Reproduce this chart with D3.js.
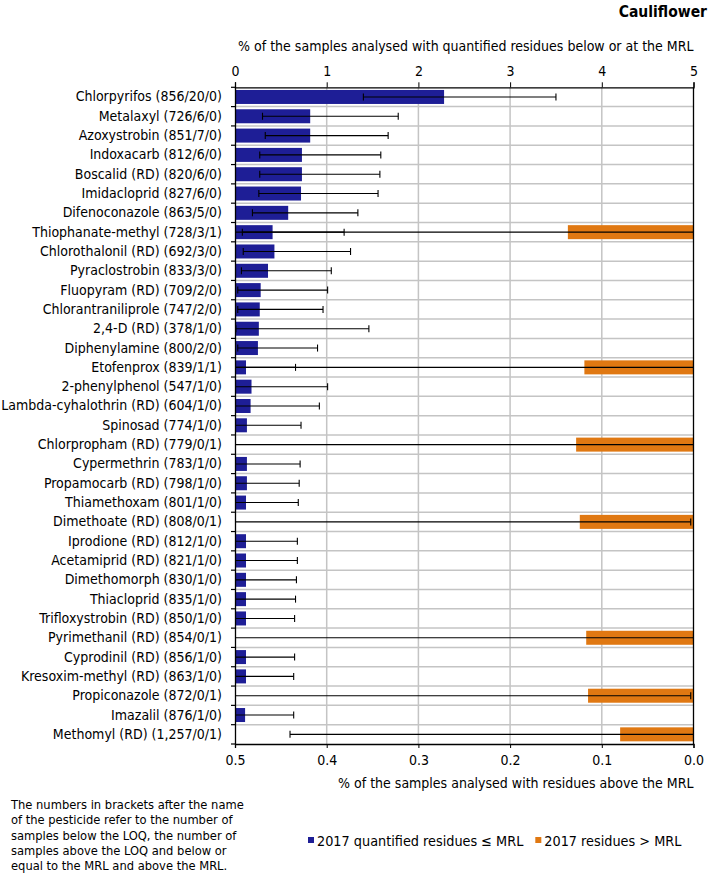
<!DOCTYPE html>
<html>
<head>
<meta charset="utf-8">
<script src="https://cdn.jsdelivr.net/npm/d3@7"></script>
<style>
  html, body { margin: 0; padding: 0; background: #fff; }
  svg { display: block; }
  text { font-family: "DejaVu Sans Condensed", "DejaVu Sans", sans-serif; fill: #000; }
</style>
</head>
<body>
<svg id="chart" width="709" height="874"></svg>
<script>
const categories = [
  "Chlorpyrifos (856/20/0)", "Metalaxyl (726/6/0)", "Azoxystrobin (851/7/0)", "Indoxacarb (812/6/0)",
  "Boscalid (RD) (820/6/0)", "Imidacloprid (827/6/0)", "Difenoconazole (863/5/0)", "Thiophanate-methyl (728/3/1)",
  "Chlorothalonil (RD) (692/3/0)", "Pyraclostrobin (833/3/0)", "Fluopyram (RD) (709/2/0)", "Chlorantraniliprole (747/2/0)",
  "2,4-D (RD) (378/1/0)", "Diphenylamine (800/2/0)", "Etofenprox (839/1/1)", "2-phenylphenol (547/1/0)",
  "Lambda-cyhalothrin (RD) (604/1/0)", "Spinosad (774/1/0)", "Chlorpropham (RD) (779/0/1)", "Cypermethrin (783/1/0)",
  "Propamocarb (RD) (798/1/0)", "Thiamethoxam (801/1/0)", "Dimethoate (RD) (808/0/1)", "Iprodione (RD) (812/1/0)",
  "Acetamiprid (RD) (821/1/0)", "Dimethomorph (830/1/0)", "Thiacloprid (835/1/0)", "Trifloxystrobin (RD) (850/1/0)",
  "Pyrimethanil (RD) (854/0/1)", "Cyprodinil (RD) (856/1/0)", "Kresoxim-methyl (RD) (863/1/0)", "Propiconazole (872/0/1)",
  "Imazalil (876/1/0)", "Methomyl (RD) (1,257/0/1)"
];
// % quantified residues <= MRL (top axis)
const quantified = [2.28, 0.82, 0.82, 0.73, 0.73, 0.72, 0.58, 0.41, 0.43, 0.36, 0.28, 0.27, 0.26, 0.25, 0.12, 0.18,
  0.17, 0.13, null, 0.13, 0.13, 0.12, null, 0.12, 0.12, 0.12, 0.12, 0.12, null, 0.12, 0.12, null, 0.11, null];
const quantifiedLow = [1.40, 0.30, 0.33, 0.27, 0.27, 0.26, 0.19, 0.08, 0.09, 0.07, 0.03, 0.03, 0.01, 0.03, 0.003, 0.005,
  0.004, 0.003, null, 0.003, 0.003, 0.003, null, 0.003, 0.003, 0.003, 0.003, 0.003, null, 0.003, 0.003, null, 0.003, null];
const quantifiedHigh = [3.50, 1.78, 1.67, 1.59, 1.58, 1.56, 1.34, 1.19, 1.26, 1.05, 1.01, 0.96, 1.46, 0.90, 0.66, 1.01,
  0.92, 0.72, null, 0.71, 0.70, 0.69, null, 0.68, 0.68, 0.67, 0.66, 0.65, null, 0.65, 0.64, null, 0.64, null];
// % residues > MRL (bottom axis, reversed)
const aboveMRL = [null, null, null, null, null, null, null, 0.137, null, null, null, null, null, null, 0.119, null,
  null, null, 0.128, null, null, null, 0.124, null, null, null, null, null, 0.117, null, null, 0.115, null, 0.080];
const aboveLow = [null, null, null, null, null, null, null, 0.0, null, null, null, null, null, null, 0.0, null,
  null, null, 0.0, null, null, null, 0.003, null, null, null, null, null, 0.0, null, null, 0.003, null, 0.0];
const aboveHigh = [null, null, null, null, null, null, null, 0.76, null, null, null, null, null, null, 0.66, null,
  null, null, 0.71, null, null, null, 0.69, null, null, null, null, null, 0.65, null, null, 0.64, null, 0.44];
const topTicks = [0, 1, 2, 3, 4, 5];
const bottomTicks = [0.5, 0.4, 0.3, 0.2, 0.1, 0.0];
const legendLabels = ["2017 quantified residues \u2264 MRL", "2017 residues > MRL"];
const footnote = [
  "The numbers in brackets after the name",
  "of the pesticide refer to the number of",
  "samples below the LOQ, the number of",
  "samples above the LOQ and below or",
  "equal to the MRL and above the MRL."
];

const BLUE = "#1e1e96", ORANGE = "#e07812", GRID = "#c4c4c4";
const FONT = '"DejaVu Sans Condensed", "DejaVu Sans", sans-serif';
const L = 235, R = 693.5, T = 87.3, B = 744;
const svg = d3.select("#chart");

const xTop = d3.scaleLinear().domain([0, 5]).range([L, R]);
const xBot = d3.scaleLinear().domain([0.5, 0]).range([L, R]);
const y = d3.scaleBand().domain(categories).range([T, B]).paddingInner(0.27).paddingOuter(0.135);
const step = y.step();
const rowCenter = c => y(c) + y.bandwidth() / 2;

svg.append("defs").append("clipPath").attr("id", "plotclip")
  .append("rect").attr("x", L).attr("y", T).attr("width", R - L).attr("height", B - T);

// vertical gridlines
svg.append("g").selectAll("line").data(topTicks.slice(1, -1)).join("line")
  .attr("x1", d => xTop(d)).attr("x2", d => xTop(d)).attr("y1", T).attr("y2", B)
  .attr("stroke", GRID).attr("stroke-width", 1.5);
// horizontal row separators
const boundaries = categories.map((c, i) => T + i * step).slice(1);
svg.append("g").selectAll("line").data(boundaries).join("line")
  .attr("x1", L).attr("x2", R).attr("y1", d => d).attr("y2", d => d)
  .attr("stroke", GRID).attr("stroke-width", 1.5);

const rows = categories.map((c, i) => ({
  c, q: quantified[i], ql: quantifiedLow[i], qh: quantifiedHigh[i],
  a: aboveMRL[i], al: aboveLow[i], ah: aboveHigh[i]
}));
const bh = 14;

// blue bars
svg.append("g").selectAll("rect").data(rows.filter(d => d.q != null)).join("rect")
  .attr("x", xTop(0)).attr("y", d => rowCenter(d.c) - bh / 2)
  .attr("width", d => xTop(d.q) - xTop(0)).attr("height", bh).attr("fill", BLUE);
// orange bars
svg.append("g").selectAll("rect").data(rows.filter(d => d.a != null)).join("rect")
  .attr("x", d => xBot(d.a)).attr("y", d => rowCenter(d.c) - bh / 2)
  .attr("width", d => xBot(0) - xBot(d.a)).attr("height", bh).attr("fill", ORANGE);

// error bars
const eg = svg.append("g").attr("clip-path", "url(#plotclip)").attr("stroke", "#000").attr("stroke-width", 1.1);
function errBar(x1, x2, cy) {
  eg.append("line").attr("x1", x1).attr("x2", x2).attr("y1", cy).attr("y2", cy);
  [x1, x2].forEach(x => eg.append("line").attr("x1", x).attr("x2", x).attr("y1", cy - 3.5).attr("y2", cy + 3.5));
}
rows.forEach(d => {
  const cy = rowCenter(d.c);
  if (d.q != null) errBar(xTop(d.ql), xTop(d.qh), cy);
  if (d.a != null) errBar(xBot(d.ah), xBot(d.al), cy);
});

// axes
const topAxis = svg.append("g").attr("transform", `translate(0,${T})`)
  .call(d3.axisTop(xTop).tickValues(topTicks).tickFormat(d3.format("d")).tickSize(5).tickPadding(6));
const botAxis = svg.append("g").attr("transform", `translate(0,${B})`)
  .call(d3.axisBottom(xBot).tickValues(bottomTicks).tickFormat(d3.format(".1f")).tickSize(4).tickPadding(7));
const leftAxis = svg.append("g").attr("transform", `translate(${L},0)`)
  .call(d3.axisLeft(y).tickSize(0).tickPadding(13));
[topAxis, botAxis, leftAxis].forEach(a => {
  a.selectAll("text").style("font-size", "14px").style("font-family", FONT);
  a.selectAll("path").attr("stroke", "#000").attr("stroke-width", 1.3);
  a.selectAll("line").attr("stroke", "#000");
});
// left tick marks at row boundaries
svg.append("g").selectAll("line").data([T, ...boundaries, B]).join("line")
  .attr("x1", L - 4).attr("x2", L).attr("y1", d => d).attr("y2", d => d)
  .attr("stroke", "#000").attr("stroke-width", 1.2);
// right border
svg.append("line").attr("x1", R).attr("x2", R).attr("y1", T).attr("y2", B)
  .attr("stroke", "#000").attr("stroke-width", 1.3);

// titles
svg.append("text").attr("x", 707).attr("y", 17).attr("text-anchor", "end")
  .style("font-size", "15.5px").style("font-weight", "bold").style("font-family", FONT)
  .text("Cauliflower");
svg.append("text").attr("x", R).attr("y", 51).attr("text-anchor", "end").style("font-size", "14px")
  .text("% of the samples analysed with quantified residues below or at the MRL");
svg.append("text").attr("x", R).attr("y", 788).attr("text-anchor", "end").style("font-size", "14px")
  .text("% of the samples analysed with residues above the MRL");

// footnote
svg.append("g").selectAll("text").data(footnote).join("text")
  .attr("x", 11).attr("y", (d, i) => 809 + i * 15.3).style("font-size", "12.8px").text(d => d);

// legend
const lg = svg.append("g");
const blueX = 308;
lg.append("rect").attr("x", blueX).attr("y", 837).attr("width", 6).attr("height", 6).attr("fill", BLUE);
const blueText = lg.append("text").attr("x", blueX + 9).attr("y", 846).style("font-size", "14.3px").text(legendLabels[0]);
const orangeX = blueX + 9 + blueText.node().getComputedTextLength() + 12;
lg.append("rect").attr("x", orangeX).attr("y", 837).attr("width", 6).attr("height", 6).attr("fill", ORANGE);
lg.append("text").attr("x", orangeX + 9).attr("y", 846).style("font-size", "14.3px").text(legendLabels[1]);
</script>
</body>
</html>
